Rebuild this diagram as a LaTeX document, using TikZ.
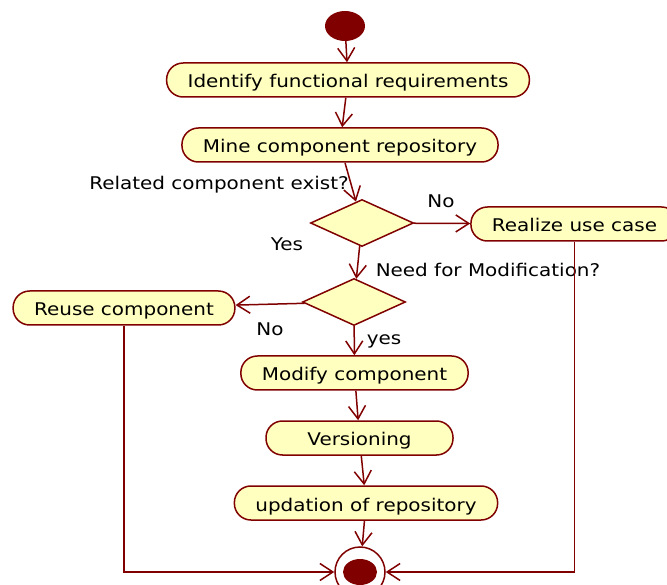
\documentclass[tikz,border=0pt]{standalone}
\usepackage{fontspec}
\setmainfont{DejaVu Sans}[FakeStretch=1.14]
\usetikzlibrary{arrows.meta,shapes.geometric}
\definecolor{umlred}{HTML}{800000}
\definecolor{umlfill}{HTML}{FFFFC0}
\tikzset{
  activity/.style={draw=umlred, fill=umlfill, line width=1.5pt,
    rounded corners=16.5pt, minimum height=34pt, inner xsep=21pt,
    text height=16pt, text depth=0pt,
    font=\fontsize{17.5}{20}\selectfont},
  decision/.style={diamond, draw=umlred, fill=umlfill, line width=1.5pt,
    minimum width=103pt, minimum height=47pt, inner sep=0pt},
  flow/.style={draw=umlred, line width=1.5pt,
    -{Straight Barb[length=13pt,width=17pt,line width=1.5pt]}},
  guard/.style={font=\fontsize{17.5}{20}\selectfont, inner sep=0pt}
}
\begin{document}
\begin{tikzpicture}[x=1pt, y=-1pt]
\useasboundingbox (0,0) rectangle (667,585);

% initial and final nodes
\node[ellipse, fill=umlred, minimum width=40pt, minimum height=30pt, inner sep=0pt] (start) at (345,26) {};
\node[circle, draw=umlred, fill=white, line width=1.5pt, minimum size=50pt, inner sep=0pt] (end) at (360,572) {};
\node[ellipse, fill=umlred, minimum width=34pt, minimum height=26pt, inner sep=0pt] (endin) at (360,572) {};

% activities
\node[activity] (ident) at (348,80) {Identify functional requirements};
\node[activity] (mine) at (340,145) {Mine component repository};
\node[activity] (real) at (574.5,224) {Realize use case};
\node[activity] (reuse) at (124,308) {Reuse component};
\node[activity] (modify) at (354.5,373) {Modify component};
\node[activity, minimum width=187pt] (vers) at (359.5,438) {Versioning};
\node[activity] (upd) at (366,503) {updation of repository};

% decisions
\node[decision] (d1) at (362,223) {};
\node[decision] (d2) at (354,302) {};

% guard texts
\node[guard] (q1) at (219,185) {Related component exist?};
\node[guard] (no1) at (441,201) {No};
\node[guard] (yes1) at (287,244) {Yes};
\node[guard] (q2) at (488,270) {Need for Modification?};
\node[guard] (no2) at (270,329) {No};
\node[guard] (yes2) at (384,341) {yes};

% control flows
\draw[flow] (start) -- (ident);
\draw[flow] (ident) -- (mine);
\draw[flow] (mine) -- (d1);
\draw[flow] (d1) -- (real);
\draw[flow] (d1) -- (d2);
\draw[flow] (d2) -- (reuse);
\draw[flow] (d2) -- (modify);
\draw[flow] (modify) -- (vers);
\draw[flow] (vers) -- (upd);
\draw[flow] (upd) -- (end);
\draw[flow] (reuse) |- (end);
\draw[flow] (real) |- (end);
\end{tikzpicture}
\end{document}
